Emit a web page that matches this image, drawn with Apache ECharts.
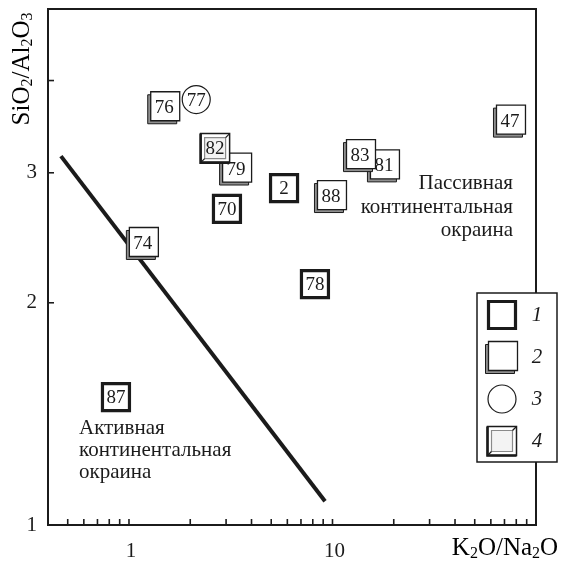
<!DOCTYPE html>
<html>
<head>
<meta charset="utf-8">
<script src="https://cdn.jsdelivr.net/npm/echarts@6/dist/echarts.min.js"></script>
<style>
  html, body { margin: 0; padding: 0; background: #fff; }
  #chart { width: 562px; height: 568px; }
</style>
</head>
<body>
<div id="chart"></div>
<script>
// K2O/Na2O vs SiO2/Al2O3 discrimination plot (log–log)

// Axis ranges
const xRange = [0.4, 100];
const yRange = [1, 5];

// Tick positions and labelled values
const xTicks = [0.5, 0.6, 0.7, 0.8, 0.9, 1, 2, 3, 4, 5, 6, 7, 8, 9, 10, 20, 30, 40, 50, 60, 70, 80, 90];
const yTicks = [2, 3, 4];
const xTickLabels = [1, 10];
const yTickLabels = [1, 2, 3];

// Group 1 – heavy frame
const g1Ids = ['70', '2', '78', '87'];
const g1K2ONa2O = [3.03, 5.78, 8.2, 0.863];
const g1SiO2Al2O3 = [2.68, 2.86, 2.12, 1.49];

// Group 2 – frame with shadow
const g2Ids = ['76', '74', '79', '47', '81', '83', '88'];
const g2K2ONa2O = [1.49, 1.17, 3.36, 74.5, 17.9, 13.65, 9.83];
const g2SiO2Al2O3 = [3.68, 2.41, 3.04, 3.53, 3.07, 3.17, 2.79];

// Group 3 – circle
const g3Ids = ['77'];
const g3K2ONa2O = [2.14];
const g3SiO2Al2O3 = [3.77];

// Group 4 – bevelled frame
const g4Ids = ['82'];
const g4K2ONa2O = [2.65];
const g4SiO2Al2O3 = [3.24];

// Boundary between active and passive margins
const boundaryK2ONa2O = [0.463, 9.19];
const boundarySiO2Al2O3 = [3.16, 1.077];

const legendLabels = ['1', '2', '3', '4'];

const INK = '#1b1b1b';
const SERIF = '"Liberation Serif", "DejaVu Serif", serif';

function symbolShape(kind, cx, cy, label) {
  const kids = [];
  if (kind === 1) {
    const B = 27, h = B / 2;
    kids.push({ type: 'rect', shape: { x: cx - h, y: cy - h, width: B, height: B },
      style: { fill: '#fff', stroke: INK, lineWidth: 3.2 } });
  } else if (kind === 2) {
    const B = 29, h = B / 2, x0 = cx - h + 1, y0 = cy - h - 1;
    kids.push({ type: 'rect', shape: { x: x0 - 3, y: y0 + 3, width: B, height: B },
      style: { fill: '#8f8f8f', stroke: INK, lineWidth: 1 } });
    kids.push({ type: 'rect', shape: { x: x0, y: y0, width: B, height: B },
      style: { fill: '#fff', stroke: INK, lineWidth: 1.3 } });
  } else if (kind === 3) {
    kids.push({ type: 'circle', shape: { cx: cx, cy: cy, r: 14 },
      style: { fill: '#fff', stroke: INK, lineWidth: 1.2 } });
  } else {
    const B = 29, h = B / 2, x0 = cx - h, y0 = cy - h, d = 4;
    kids.push({ type: 'rect', shape: { x: x0, y: y0, width: B, height: B },
      style: { fill: '#fff', stroke: INK, lineWidth: 1.5 } });
    kids.push({ type: 'rect', shape: { x: x0 + d, y: y0 + d, width: B - 2 * d, height: B - 2 * d },
      style: { fill: '#f3f3f3', stroke: '#8a8a8a', lineWidth: 1.2 } });
    kids.push({ type: 'line', shape: { x1: x0 + B, y1: y0, x2: x0 + B - d, y2: y0 + d },
      style: { stroke: INK, lineWidth: 1.3 } });
    kids.push({ type: 'line', shape: { x1: x0, y1: y0 + B, x2: x0 + d, y2: y0 + B - d },
      style: { stroke: INK, lineWidth: 1.3 } });
    kids.push({ type: 'polyline', shape: { points: [[x0, y0], [x0, y0 + B], [x0 + B, y0 + B]] },
      style: { fill: 'none', stroke: INK, lineWidth: 2.6 } });
  }
  if (label) {
    kids.push({ type: 'text', x: cx, y: cy + 1,
      style: { text: label, align: 'center', verticalAlign: 'middle',
        font: '19px ' + SERIF, fill: INK } });
  }
  return kids;
}

function pointSeries(kind, ids, xs, ys) {
  return {
    type: 'custom',
    z: 5,
    data: xs.map((v, i) => [v, ys[i]]),
    encode: { x: 0, y: 1 },
    renderItem: function (params, api) {
      const p = api.coord([api.value(0), api.value(1)]);
      return { type: 'group', children: symbolShape(kind, p[0], p[1], ids[params.dataIndex]) };
    }
  };
}

const subRich = {
  n: { fontSize: 25, lineHeight: 28, fontFamily: SERIF, color: INK },
  s: { fontSize: 16, lineHeight: 16, fontFamily: SERIF, color: INK, verticalAlign: 'bottom' }
};

const chart = echarts.init(document.getElementById('chart'));

// legend box, drawn as flat graphic elements above the plot
const legendElements = [
  { type: 'rect', shape: { x: 477, y: 293, width: 80, height: 169 },
    style: { fill: '#fff', stroke: INK, lineWidth: 1.5 } }
];
legendLabels.forEach((lab, i) => {
  const cy = 315 + i * 42;
  symbolShape(i + 1, 502, cy, null).forEach(el => legendElements.push(el));
  legendElements.push({ type: 'text', x: 537, y: cy,
    style: { text: lab, align: 'center', verticalAlign: 'middle',
      font: 'italic 21px ' + SERIF, fill: INK } });
});
legendElements.forEach((el, i) => { el.z = 100 + i; });

chart.setOption({
  animation: false,
  backgroundColor: '#fff',
  grid: { left: 48, right: 26, top: 9, bottom: 43, show: true, borderColor: INK, borderWidth: 2, backgroundColor: 'transparent' },
  xAxis: {
    type: 'log', logBase: 10, min: xRange[0], max: xRange[1],
    axisLine: { show: false }, axisTick: { show: false }, axisLabel: { show: false }, splitLine: { show: false }
  },
  yAxis: {
    type: 'log', logBase: 10, min: yRange[0], max: yRange[1],
    axisLine: { show: false }, axisTick: { show: false }, axisLabel: { show: false }, splitLine: { show: false }
  },
  series: [
    {
      // inward ticks along the bottom
      type: 'custom', z: 3,
      data: xTicks.map(v => [v, yRange[0]]),
      encode: { x: 0, y: 1 },
      renderItem: function (params, api) {
        const p = api.coord([api.value(0), api.value(1)]);
        return { type: 'line', shape: { x1: p[0], y1: p[1], x2: p[0], y2: p[1] - 6 },
          style: { stroke: INK, lineWidth: 1.6 } };
      }
    },
    {
      // inward ticks along the left side
      type: 'custom', z: 3,
      data: yTicks.map(v => [xRange[0], v]),
      encode: { x: 0, y: 1 },
      renderItem: function (params, api) {
        const p = api.coord([api.value(0), api.value(1)]);
        return { type: 'line', shape: { x1: p[0], y1: p[1], x2: p[0] + 6, y2: p[1] },
          style: { stroke: INK, lineWidth: 1.6 } };
      }
    },
    {
      type: 'custom', z: 3, clip: false,
      data: xTickLabels.map(v => [v, yRange[0]]),
      encode: { x: 0, y: 1 },
      renderItem: function (params, api) {
        const p = api.coord([api.value(0), api.value(1)]);
        return { type: 'text', x: p[0] + 2, y: p[1] + 26,
          style: { text: String(xTickLabels[params.dataIndex]), align: 'center', verticalAlign: 'middle',
            font: '21px ' + SERIF, fill: INK } };
      }
    },
    {
      type: 'custom', z: 3, clip: false,
      data: yTickLabels.map(v => [xRange[0], v]),
      encode: { x: 0, y: 1 },
      renderItem: function (params, api) {
        const p = api.coord([api.value(0), api.value(1)]);
        return { type: 'text', x: p[0] - 11, y: p[1],
          style: { text: String(yTickLabels[params.dataIndex]), align: 'right', verticalAlign: 'middle',
            font: '21px ' + SERIF, fill: INK } };
      }
    },
    {
      type: 'line', z: 2,
      data: boundaryK2ONa2O.map((v, i) => [v, boundarySiO2Al2O3[i]]),
      symbol: 'none',
      lineStyle: { color: INK, width: 4, cap: 'butt' }
    },
    pointSeries(1, g1Ids, g1K2ONa2O, g1SiO2Al2O3),
    pointSeries(2, g2Ids, g2K2ONa2O, g2SiO2Al2O3),
    pointSeries(3, g3Ids, g3K2ONa2O, g3SiO2Al2O3),
    pointSeries(4, g4Ids, g4K2ONa2O, g4SiO2Al2O3)
  ],
  graphic: [
    { type: 'text', x: 22, y: 69, rotation: Math.PI / 2, z: 10,
      style: { text: '{n|SiO}{s|2}{n|/Al}{s|2}{n|O}{s|3}', rich: subRich, align: 'center', verticalAlign: 'middle' } },
    { type: 'text', x: 505, y: 548, z: 10,
      style: { text: '{n|K}{s|2}{n|O/Na}{s|2}{n|O}', rich: subRich, align: 'center', verticalAlign: 'middle' } },
    { type: 'text', x: 513, y: 207, z: 10,
      style: { text: 'Пассивная\nконтинентальная\nокраина', align: 'right', verticalAlign: 'middle',
        font: '21px ' + SERIF, lineHeight: 23.5, fill: INK } },
    { type: 'text', x: 79, y: 450, z: 10,
      style: { text: 'Активная\nконтинентальная\nокраина', align: 'left', verticalAlign: 'middle',
        font: '21px ' + SERIF, lineHeight: 22, fill: INK } }
  ].concat(legendElements)
});
</script>
</body>
</html>
